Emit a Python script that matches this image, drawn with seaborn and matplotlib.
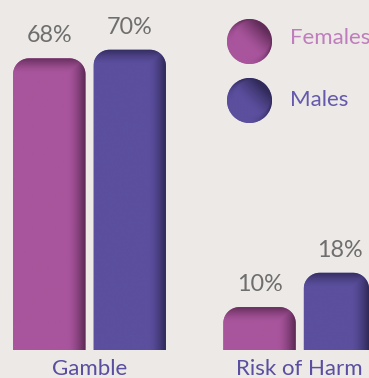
import numpy as np
import pandas as pd
import seaborn as sns
import matplotlib
matplotlib.use("Agg")
import matplotlib.pyplot as plt
from matplotlib.patches import PathPatch, Circle
from matplotlib.path import Path

# ---- data -------------------------------------------------------------
categories = ["Gamble", "Risk of Harm"]
groups = ["Females", "Males"]
females = [68, 10]
males = [70, 18]

# ---- style ------------------------------------------------------------
BG = "#ECE9E6"
base_colors = {"Females": "#A9559D", "Males": "#5B4F9E"}
shadow_colors = {"Females": "#5A2852", "Males": "#2C2652"}
legend_text_colors = {"Females": "#C07DBD", "Males": "#6459AC"}
VALUE_COLOR = "#6E6E6E"
CAT_COLOR = "#5A4EA0"
FONT = "Lato"

df = pd.DataFrame({
    "category": categories * 2,
    "group": ["Females"] * len(categories) + ["Males"] * len(categories),
    "value": females + males,
})

W, H = 369, 378
fig = plt.figure(figsize=(W / 100, H / 100), dpi=100, facecolor=BG)
ax = fig.add_axes([0, 28 / H, 1, 350 / H])
ax.set_facecolor(BG)

sns.barplot(data=df, x="category", y="value", hue="group",
            order=categories, hue_order=groups, palette=base_colors,
            width=0.765, gap=0.1, errorbar=None, legend=False, ax=ax)

XLIM = (-0.4257, 1.3294)
YLIM = (0, 81.6)
ax.set_xlim(*XLIM)
ax.set_ylim(*YLIM)
for s in ax.spines.values():
    s.set_visible(False)
ax.set_yticks([])
ax.set_xlabel("")
ax.set_ylabel("")
ax.tick_params(axis="x", length=0, pad=6.5)
ax.set_xticks(range(len(categories)))
ax.set_xticklabels(categories, fontsize=16, color=CAT_COLOR, family=FONT)

# pixel scale of the data axes
fig.canvas.draw()
p0 = ax.transData.transform((0, 0))
p1 = ax.transData.transform((1, 1))
px_x = p1[0] - p0[0]
px_y = p1[1] - p0[1]


def rounded_top_path(x0, x1, y1, r_px):
    rx = r_px / px_x
    ry = r_px / px_y
    t = np.linspace(0, np.pi / 2, 24)
    # top-right corner then top-left corner
    tr = np.column_stack([x1 - rx + rx * np.cos(t), y1 - ry + ry * np.sin(t)])
    tl = np.column_stack([x0 + rx - rx * np.sin(t), y1 - ry + ry * np.cos(t)])
    verts = np.vstack([[x0, 0], [x1, 0], tr, tl, [x0, 0]])
    codes = [Path.MOVETO] + [Path.LINETO] * (len(verts) - 2) + [Path.CLOSEPOLY]
    return Path(verts, codes)


def shaded_image(w_px, h_px, base, shadow, right_band=18, top_band=15):
    nx, ny = max(int(w_px * 2), 2), max(int(h_px * 2), 2)
    xs = np.linspace(0, w_px, nx)
    ys = np.linspace(0, h_px, ny)  # 0 = top
    X, Y = np.meshgrid(xs, ys)
    dr = w_px - X
    s_r = np.clip(1 - dr / right_band, 0, 1) ** 1.5
    s_t = 0.85 * np.clip(1 - Y / top_band, 0, 1) ** 1.5
    s = np.maximum(s_r, s_t)
    b = np.array(matplotlib.colors.to_rgb(base))
    d = np.array(matplotlib.colors.to_rgb(shadow))
    img = b[None, None, :] * (1 - s[..., None]) + d[None, None, :] * s[..., None]
    return img


for grp, container in zip(groups, ax.containers):
    for rect in container.patches:
        rect.set_visible(False)
        x0 = rect.get_x()
        x1 = min(x0 + rect.get_width(), XLIM[1])
        h = rect.get_height()
        path = rounded_top_path(x0, x1, h, 16)
        patch = PathPatch(path, facecolor=base_colors[grp], edgecolor="none")
        ax.add_patch(patch)
        img = shaded_image((x1 - x0) * px_x, h * px_y,
                           base_colors[grp], shadow_colors[grp])
        im = ax.imshow(img, extent=[x0, x1, 0, h], aspect="auto",
                       interpolation="bilinear", zorder=3)
        im.set_clip_path(patch)
        ax.annotate(f"{h:.0f}%", xy=(x0 + rect.get_width() / 2, h),
                    xytext=(0, 11.5), textcoords="offset points",
                    ha="center", va="baseline", fontsize=16.8,
                    color=VALUE_COLOR, family=FONT, fontweight="normal")

ax.set_xlim(*XLIM)
ax.set_ylim(*YLIM)

# ---- legend drawn in pixel coordinates --------------------------------
lax = fig.add_axes([0, 0, 1, 1])
lax.set_xlim(0, W)
lax.set_ylim(H, 0)
lax.axis("off")
lax.patch.set_alpha(0)

legend_pos = {"Females": 41.5, "Males": 100.5}
R = 22.5
CX = 249.5
for grp in groups:
    cy = legend_pos[grp]
    circ = Circle((CX, cy), R, facecolor=base_colors[grp], edgecolor="none")
    lax.add_patch(circ)
    n = 120
    xs = np.linspace(-R, R, n)
    X, Y = np.meshgrid(xs, xs)  # Y: downwards positive
    proj = (X * 0.7 - Y * 0.7) / R
    rim = np.clip((np.hypot(X, Y) - (R - 7)) / 7, 0, 1) ** 1.5
    s = np.clip(proj + 0.15, 0, 1) ** 1.4
    s = np.clip(np.maximum(s, rim * np.clip(proj + 0.6, 0, 1)), 0, 1) * 0.9
    b = np.array(matplotlib.colors.to_rgb(base_colors[grp]))
    d = np.array(matplotlib.colors.to_rgb(shadow_colors[grp]))
    img = b[None, None, :] * (1 - s[..., None]) + d[None, None, :] * s[..., None]
    im = lax.imshow(img, extent=[CX - R, CX + R, cy + R, cy - R],
                    aspect="auto", interpolation="bilinear", zorder=3)
    im.set_clip_path(circ)
    lax.text(290, cy + 3 if grp == "Females" else cy + 5.5, grp,
             fontsize=16, color=legend_text_colors[grp], family=FONT,
             ha="left", va="baseline")

lax.set_xlim(0, W)
lax.set_ylim(H, 0)

fig.savefig("out.png", dpi=100, facecolor=BG)
